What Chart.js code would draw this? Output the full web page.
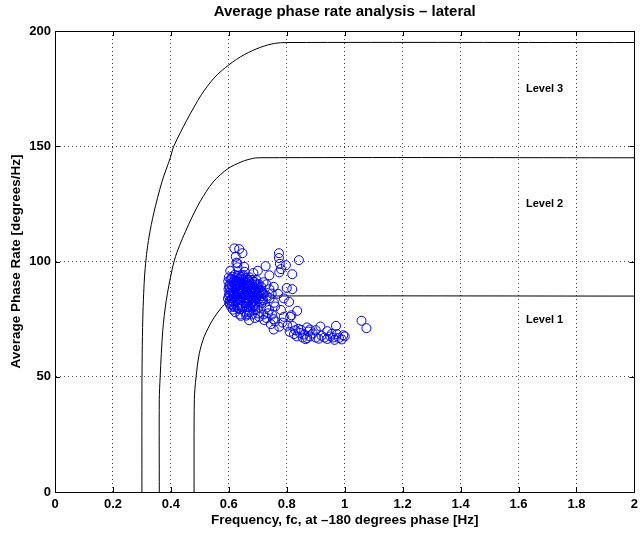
<!DOCTYPE html>
<html>
<head>
<meta charset="utf-8">
<script src="https://cdn.jsdelivr.net/npm/chart.js@4/dist/chart.umd.min.js"></script>
<style>
  body { margin: 0; background: #fff; }
  canvas { display: block; }
</style>
</head>
<body>
<canvas id="phase-chart" width="643" height="534"></canvas>
<script>
// boundary curves
const level1X = [0.48, 0.481, 0.487, 0.498, 0.515, 0.544, 0.573, 0.596, 0.625, 0.66, 2];
const level1Y = [0, 40, 50, 60, 67.4, 74.6, 79.7, 82.6, 84.3, 85, 85];
const level2X = [0.36, 0.36, 0.363, 0.372, 0.384, 0.404, 0.421, 0.461, 0.501, 0.546, 0.597, 0.643, 0.666, 0.70, 2];
const level2Y = [0, 40, 50, 70, 83, 96.4, 104, 116, 126, 134.5, 140.3, 143.2, 144.2, 145, 145];
const level3X = [0.300, 0.300, 0.301, 0.303, 0.306, 0.310, 0.316, 0.325, 0.341, 0.369, 0.398, 0.410, 0.455, 0.506, 0.552, 0.6, 0.654, 0.711, 0.757, 0.8, 2];
const level3Y = [0, 40, 60, 75, 86, 95, 103, 111, 121, 134.5, 145, 150, 161.3, 172.5, 180, 185.3, 189.8, 193, 194.6, 195, 195];

const levelNames = ['Level 1', 'Level 2', 'Level 3'];
const levelLabelX = [1.69, 1.69, 1.69];
const levelLabelY = [74.6, 125, 175];

// measured points: frequency at -180 deg [Hz] and average phase rate
const freqHz = [
  0.600,0.598,0.601,0.599,0.602,0.600,0.597,0.601,
  0.606,0.604,0.607,0.605,0.603,0.608,
  0.612,0.614,0.611,0.613,0.615,0.610,0.612,0.614,
  0.620,0.619,0.622,0.621,0.618,0.623,0.620,0.619,0.622,
  0.628,0.627,0.629,0.630,0.626,0.628,0.631,
  0.635,0.636,0.634,0.637,0.635,0.633,0.636,0.638,0.641,
  0.642,0.643,0.641,0.644,0.642,0.640,0.645,
  0.650,0.649,0.652,0.651,0.648,0.650,0.653,0.649,0.655,
  0.658,0.657,0.660,0.659,0.656,0.658,0.661,0.662,
  0.665,0.666,0.664,0.667,0.665,0.663,0.668,
  0.672,0.671,0.673,0.674,0.670,0.672,0.675,0.673,
  0.680,0.681,0.679,0.682,0.680,0.678,0.683,
  0.688,0.687,0.689,0.690,0.686,0.688,0.691,
  0.695,0.696,0.694,0.697,0.695,0.693,
  0.703,0.702,0.704,0.705,0.703,
  0.712,0.713,0.711,0.714,
  0.720,0.721,0.719,0.730,0.731,0.729,0.740,0.741,0.739,0.748,0.749,0.755,0.756,0.754,
  0.603,0.609,0.616,0.624,0.632,0.639,0.646,0.654,0.662,0.669,0.676,0.684,0.692,0.699,0.707,0.716,
  0.603,0.609,0.616,0.624,0.632,0.639,0.646,0.654,0.662,0.669,0.676,0.684,0.692,0.699,0.707,0.716,
  0.619,0.636,0.647,0.624,0.630,0.626,0.653,0.773,0.773,0.776,0.780,0.797,0.842,0.727,0.774,0.819,0.700,0.605,0.655,0.685,0.740,0.630,
  0.819,0.808,0.836,0.816,0.812,0.760,0.780,0.790,0.770,0.800,0.745,0.774,0.802,0.760,0.730,0.720,0.700,0.790,0.785,0.755,0.820,0.840,0.870,0.916,0.970,0.995,0.973,1.058,1.075,
  0.810,0.825,0.835,0.845,0.855,0.860,0.870,0.880,0.890,0.900,0.910,0.920,0.930,0.940,0.950,0.960,0.965,0.980,0.990,1.000,0.850,0.875,0.900,0.940,0.830,0.865,0.955,0.880,
  0.640,0.660,0.680,0.690,0.705,0.670,0.722,0.735
];
const phaseRate = [
  93.1,91.4,89.2,88.0,86.3,85.1,83.9,82.2,
  92.2,90.1,87.4,85.3,83.0,80.4,
  93.4,91.0,89.3,87.2,85.8,84.0,81.2,79.1,
  94.2,92.0,90.3,88.1,86.4,84.7,83.1,80.2,78.0,
  93.0,91.2,89.4,87.0,85.2,83.3,81.0,
  94.0,92.3,90.1,88.2,86.0,84.2,82.1,79.3,76.4,
  93.2,91.0,89.1,87.3,85.0,83.2,80.1,
  94.1,92.2,90.0,88.3,86.1,84.0,82.3,80.8,78.2,
  93.0,91.1,89.2,87.0,85.3,83.0,80.2,77.1,
  92.1,90.0,88.2,86.1,84.0,82.2,79.0,
  93.1,91.0,89.3,87.1,85.0,83.2,81.1,78.0,
  92.0,90.2,88.1,86.0,84.1,82.0,80.1,
  91.2,89.0,87.2,85.1,83.0,81.2,79.0,
  92.0,90.1,88.0,86.2,84.0,82.1,
  90.2,88.0,86.1,84.0,80.2,
  89.0,87.1,85.0,82.0,
  91.0,86.0,83.1,90.1,85.0,80.0,88.0,84.1,79.0,86.1,77.0,89.0,82.1,75.0,
  88.6,92.5,85.0,89.3,86.4,91.2,84.6,88.9,86.7,91.8,84.5,88.7,86.9,85.2,87.5,84.0,
  81.5,83.0,82.4,91.5,79.8,87.0,93.5,85.7,90.6,80.3,87.9,84.3,80.5,89.2,82.6,86.3,
  105.7,105.4,103.6,102.1,99.2,99.5,97.7,103.6,101.5,99.0,96.7,98.4,100.6,98.0,95.3,94.5,96.0,96.0,95.5,95.0,94.0,97.5,
  88.0,82.5,78.6,76.7,76.0,80.5,79.0,84.0,86.0,88.5,72.8,71.7,72.1,74.0,75.5,77.0,77.5,76.0,73.5,70.5,72.0,70.8,71.4,71.8,72.1,68.0,68.5,74.3,71.1,
  69.5,68.5,67.5,69.0,67.0,68.3,66.8,67.5,68.8,67.0,66.5,67.8,67.0,66.4,67.5,67.0,66.0,66.8,66.2,67.5,70.3,69.6,70.2,69.8,70.2,66.3,68.6,70.5,
  77.0,76.5,77.0,75.5,76.0,74.5,74.6,77.5
];

const xTicks = [0, 0.2, 0.4, 0.6, 0.8, 1, 1.2, 1.4, 1.6, 1.8, 2];
const yTicks = [0, 50, 100, 150, 200];

const FONT = '"Liberation Sans", Arial, Helvetica, sans-serif';

function toPoints(xs, ys) {
  return xs.map((v, i) => ({ x: v, y: ys[i] }));
}

function curve(xs, ys) {
  return {
    type: 'line',
    data: toPoints(xs, ys),
    borderColor: '#000',
    borderWidth: 1,
    pointRadius: 0,
    tension: 0.3,
    fill: false
  };
}

// box, inward ticks and level labels
const boxPlugin = {
  id: 'box',
  afterDraw(chart) {
    const { ctx, chartArea: a, scales: { x, y } } = chart;
    ctx.save();
    ctx.strokeStyle = '#000';
    ctx.lineWidth = 1;
    ctx.beginPath();
    ctx.rect(Math.round(a.left) + 0.5, Math.round(a.top) + 0.5, Math.round(a.right - a.left), Math.round(a.bottom - a.top));
    xTicks.forEach(t => {
      const px = Math.round(x.getPixelForValue(t)) + 0.5;
      ctx.moveTo(px, a.bottom); ctx.lineTo(px, a.bottom - 5);
      ctx.moveTo(px, a.top); ctx.lineTo(px, a.top + 5);
    });
    yTicks.forEach(t => {
      const py = Math.round(y.getPixelForValue(t)) + 0.5;
      ctx.moveTo(a.left, py); ctx.lineTo(a.left + 5, py);
      ctx.moveTo(a.right, py); ctx.lineTo(a.right - 5, py);
    });
    ctx.stroke();

    ctx.fillStyle = '#000';
    ctx.font = 'bold 11px ' + FONT;
    ctx.textAlign = 'center';
    ctx.textBaseline = 'middle';
    levelNames.forEach((name, i) => {
      ctx.fillText(name, x.getPixelForValue(levelLabelX[i]), y.getPixelForValue(levelLabelY[i]));
    });
    ctx.restore();
  }
};

let ctx = document.getElementById('phase-chart').getContext('2d');

let phaseChart = new Chart(ctx, {
  type: 'scatter',
  data: {
    datasets: [
      {
        data: toPoints(freqHz, phaseRate),
        borderColor: '#0000ff',
        backgroundColor: 'rgba(0,0,0,0)',
        borderWidth: 1,
        pointRadius: 4.5,
        pointHoverRadius: 4.5
      },
      curve(level1X, level1Y),
      curve(level2X, level2Y),
      curve(level3X, level3Y)
    ]
  },
  options: {
    responsive: false,
    animation: false,
    devicePixelRatio: 1,
    layout: { padding: { left: 0, right: 6, top: 0, bottom: 0 } },
    plugins: {
      legend: { display: false },
      tooltip: { enabled: false },
      title: {
        display: true,
        fullSize: false,
        text: 'Average phase rate analysis \u2013 lateral',
        color: '#000',
        font: { family: FONT, size: 15, weight: 'bold' },
        padding: { top: 3, bottom: 10 }
      }
    },
    scales: {
      x: {
        type: 'linear',
        min: 0,
        max: 2,
        afterBuildTicks: scale => { scale.ticks = xTicks.map(v => ({ value: v })); },
        afterFit: scale => { scale.height = 42; },
        ticks: {
          color: '#000',
          font: { family: FONT, size: 13, weight: 'bold' },
          padding: 5,
          maxRotation: 0,
          callback: v => String(Number(v.toFixed(1)))
        },
        grid: { color: 'rgba(0,0,0,0.7)', drawTicks: false },
        border: { display: true, color: '#000', width: 1, dash: [1, 3] },
        title: {
          display: true,
          text: 'Frequency, fc, at \u2013180 degrees phase [Hz]',
          color: '#000',
          font: { family: FONT, size: 13.5, weight: 'bold' },
          padding: { top: 0, bottom: 6 }
        }
      },
      y: {
        type: 'linear',
        min: 0,
        max: 200,
        afterBuildTicks: scale => { scale.ticks = yTicks.map(v => ({ value: v })); },
        afterFit: scale => { scale.width = 55; },
        ticks: {
          color: '#000',
          font: { family: FONT, size: 13, weight: 'bold' },
          padding: 4
        },
        grid: { color: 'rgba(0,0,0,0.7)', drawTicks: false },
        border: { display: true, color: '#000', width: 1, dash: [1, 3] },
        title: {
          display: true,
          text: 'Average Phase Rate [degrees/Hz]',
          color: '#000',
          font: { family: FONT, size: 13.5, weight: 'bold' },
          padding: { top: 8, bottom: 0 }
        }
      }
    }
  },
  plugins: [boxPlugin]
});
</script>
</body>
</html>
